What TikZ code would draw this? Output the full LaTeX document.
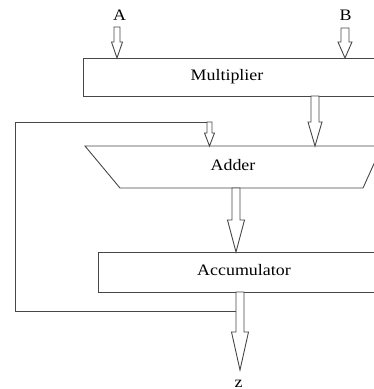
\documentclass[tikz,border=0pt]{standalone}
\usepackage{fontspec}
\setmainfont[FakeStretch=1.12]{Liberation Serif}
\usetikzlibrary{calc}
\tikzset{
  ln/.style={draw=black!72, line width=0.9pt},
  boxnode/.style={ln, rectangle, anchor=north west, inner sep=0pt, fill=white},
  txt/.style={anchor=base, inner sep=0pt, font=\fontsize{16}{18}\selectfont, text=black},
  harr/.style={ln, fill=white, line join=miter}
}
\newcommand\harrow[5]{%
  \draw[harr] let \p1=(#1), \p2=(#2) in
    (\x1-#3pt,\y1) -- (\x1-#3pt,\y2+#5pt) -- (\x1-#4pt,\y2+#5pt) -- (\x1,\y2)
    -- (\x1+#4pt,\y2+#5pt) -- (\x1+#3pt,\y2+#5pt) -- (\x1+#3pt,\y1) -- cycle;}
\begin{document}
\begin{tikzpicture}[x=1pt,y=-1pt]
\useasboundingbox (0,0) rectangle (374,389);
\clip (0,0) rectangle (374,389);
% boxes
\node[boxnode, minimum width=300pt, minimum height=38pt] (mul) at (83,58) {};
\node[boxnode, minimum width=290pt, minimum height=40pt] (acc) at (98,252) {};
\coordinate (adtl) at (85,146);
\coordinate (adtr) at (382,146);
\coordinate (adbr) at (363,188);
\coordinate (adbl) at (120,188);
\draw[ln, fill=white, line join=miter] (adtl) -- (adtr) -- (adbr) -- (adbl) -- cycle;
% texts
\node[txt] (multxt) at (227,80) {Multiplier};
\node[txt] (addtxt) at (233,170) {Adder};
\node[txt] (acctxt) at (244,275) {Accumulator};
\node[txt] (la) at (119.5,20) {A};
\node[txt] (lb) at (345.5,20) {B};
\node[txt] (lz) at (238.5,387) {z};
% arrow coordinates
\coordinate (a0) at (117,27);   \coordinate (a1) at (117,58);
\coordinate (b0) at (345,28);   \coordinate (b1) at (345,58);
\coordinate (m0) at (315,96);   \coordinate (m1) at (315,146);
\coordinate (f0) at (209.5,122);\coordinate (f1) at (209.5,146);
\coordinate (d0) at (236,188);  \coordinate (d1) at (236,252);
\coordinate (c0) at (240,292);  \coordinate (c1) at (240,370);
% feedback line
\coordinate (fbA) at (236,311);
\coordinate (fbB) at (15,311);
\coordinate (fbC) at (15,122);
\coordinate (fbD) at (207,122);
\draw[ln] (fbA) -- (fbB) -- (fbC) -- (fbD);
% hollow arrows
\harrow{a0}{a1}{3}{5.5}{16}
\harrow{b0}{b1}{4}{7}{16}
\harrow{m0}{m1}{4}{7}{24}
\harrow{f0}{f1}{2.5}{5}{13}
\harrow{d0}{d1}{4}{8.5}{32}
\harrow{c0}{c1}{4}{8.5}{38}
\end{tikzpicture}
\end{document}
